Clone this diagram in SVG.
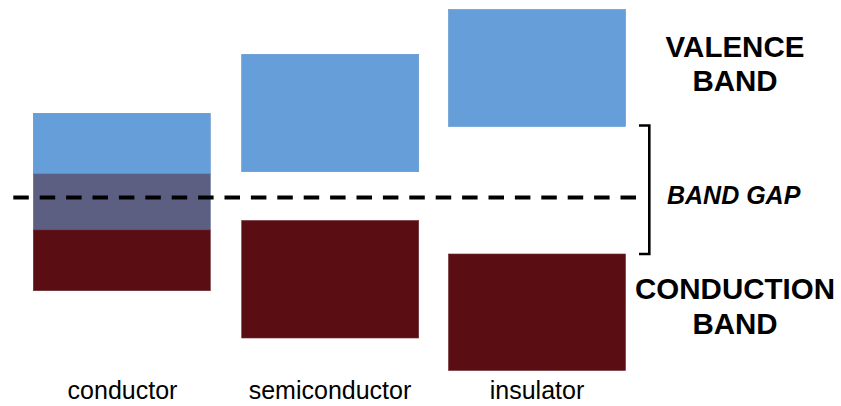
<svg xmlns="http://www.w3.org/2000/svg" width="841" height="406" viewBox="0 0 841 406">
  <style>
    .val { fill: #659ed9; stroke: #5b91cc; stroke-width: 0.6; }
    .con { fill: #5a0e14; stroke: #6a2a2e; stroke-width: 0.6; }
    .ovl { fill: #5c5f82; stroke: #5a6d96; stroke-width: 0.6; }
    .head { font-family: "Liberation Sans", Arial, sans-serif; font-weight: bold; font-size: 29.5px; fill: #000; text-anchor: middle; }
    .lab { font-family: "Liberation Sans", Arial, sans-serif; font-size: 25px; fill: #000; text-anchor: middle; }
    .gap { font-family: "Liberation Sans", Arial, sans-serif; font-weight: bold; font-style: italic; font-size: 25px; fill: #000; }
  </style>
  <g id="conductor">
    <rect class="val" x="33.3" y="113.3" width="177" height="60.7"/>
    <rect class="ovl" x="33.3" y="174" width="177" height="56"/>
    <rect class="con" x="33.3" y="230" width="177" height="60.7"/>
    <text class="lab" x="122.5" y="399">conductor</text>
  </g>
  <g id="semiconductor">
    <rect class="val" x="241.7" y="54.3" width="177" height="117.4"/>
    <rect class="con" x="241.7" y="220.5" width="177" height="117.5"/>
    <text class="lab" x="330" y="399">semiconductor</text>
  </g>
  <g id="insulator">
    <rect class="val" x="448.5" y="9.5" width="177" height="117"/>
    <rect class="con" x="448.5" y="254" width="177" height="116.5"/>
    <text class="lab" x="537" y="399">insulator</text>
  </g>
  <g id="connectors">
    <line x1="13.3" y1="197.5" x2="640" y2="197.5" stroke="#000" stroke-width="3.8" stroke-dasharray="15.5 10.9"/>
    <path d="M639 125.5 H649.3 V254 H639" fill="none" stroke="#000" stroke-width="2.6"/>
  </g>
  <g id="labels">
    <text class="head" x="735" y="57">VALENCE</text>
    <text class="head" x="735" y="90.5">BAND</text>
    <text class="head" x="735" y="299">CONDUCTION</text>
    <text class="head" x="735" y="333.5">BAND</text>
    <text class="gap" x="667" y="204">BAND GAP</text>
  </g>
</svg>
